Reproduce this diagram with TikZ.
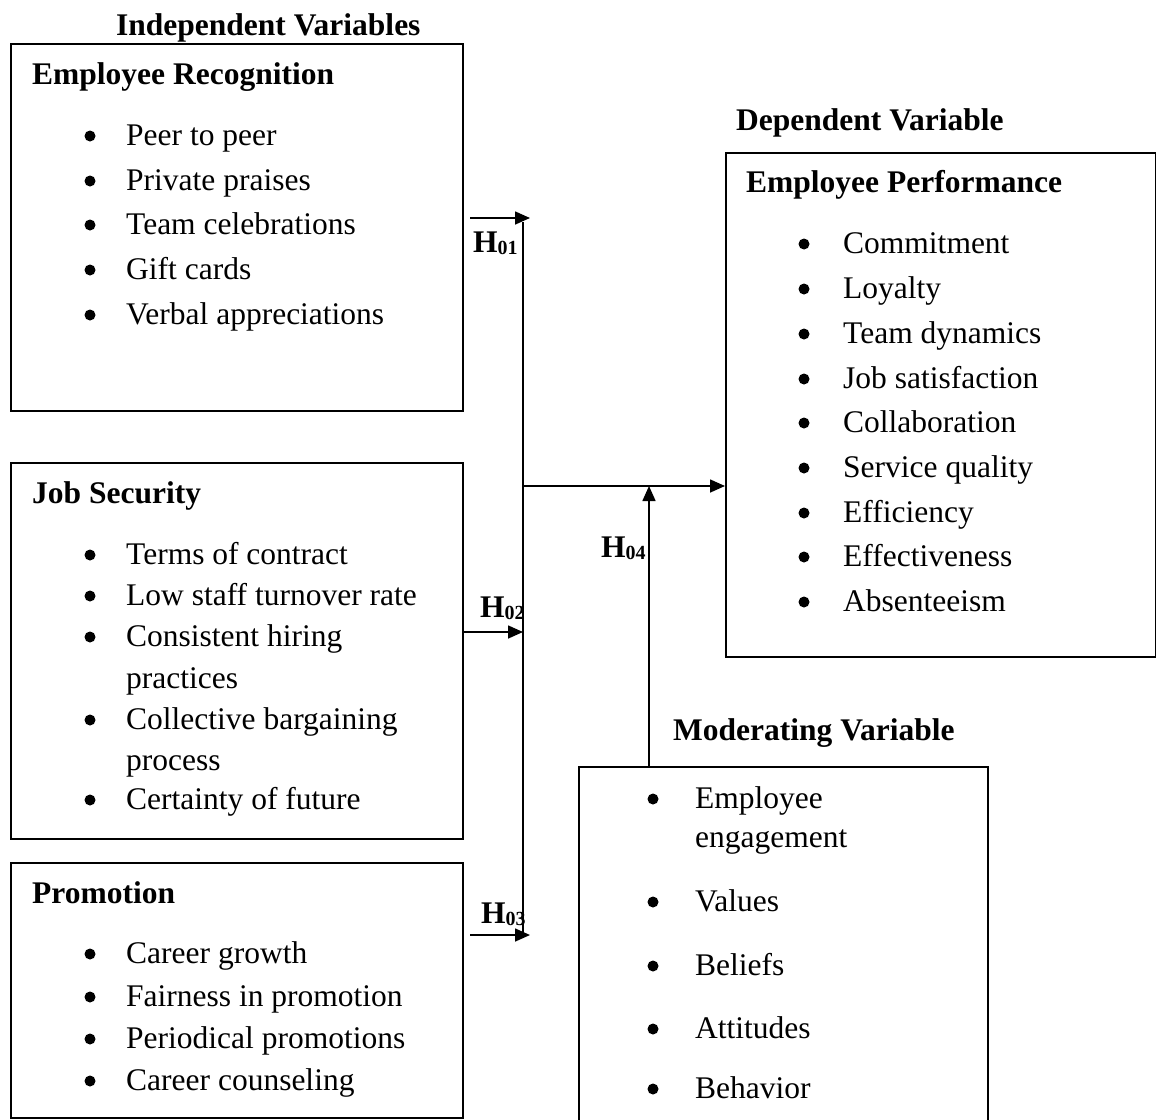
\documentclass[tikz,border=0pt]{standalone}
\usepackage{fontspec}
\setmainfont{Liberation Serif}
\usetikzlibrary{arrows.meta}
\newcommand{\body}{\fontsize{31.5}{38}\selectfont}
\newcommand{\hyp}[1]{H\raisebox{-2pt}{\fontsize{20}{20}\selectfont #1}}

\begin{document}
\begin{tikzpicture}[x=1pt, y={(0pt,-1pt)},
  panel/.style={draw, line width=1.6pt, anchor=north west, inner sep=0pt},
  head/.style={anchor=base west, inner sep=0pt, font=\body\bfseries},
  item/.style={anchor=base west, inner sep=0pt, font=\body},
  hlabel/.style={anchor=base west, inner sep=0pt, font=\body\bfseries},
  arr/.style={-{Triangle[length=15pt,width=13pt]}, line width=1.6pt},
  link/.style={line width=1.6pt}
]
  \useasboundingbox (0,0) rectangle (1156,1119);

  % boxes
  \node[panel, minimum width=452pt, minimum height=367pt] (recBox) at (10,43) {};
  \node[panel, minimum width=452pt, minimum height=376pt] (jobBox) at (10,462) {};
  \node[panel, minimum width=452pt, minimum height=255pt] (proBox) at (10,862) {};
  \node[panel, minimum width=430pt, minimum height=504pt] (perfBox) at (725,152) {};
  \node[panel, minimum width=409pt, minimum height=380pt] (modBox) at (578,766) {};

  % headings
  \node[head] (indepHead) at (116,35) {Independent Variables};
  \node[head] (depHead) at (736,130) {Dependent Variable};
  \node[head] (modHead) at (673,740) {Moderating Variable};

  % employee recognition
  \node[head] (recTitle) at (32,84) {Employee Recognition};
  \node[item] (rec1) at (126,145) {Peer to peer};
  \node[item] (rec2) at (126,190) {Private praises};
  \node[item] (rec3) at (126,234) {Team celebrations};
  \node[item] (rec4) at (126,279) {Gift cards};
  \node[item] (rec5) at (126,324) {Verbal appreciations};

  % job security
  \node[head] (jobTitle) at (32,503) {Job Security};
  \node[item] (job1) at (126,564) {Terms of contract};
  \node[item] (job2) at (126,605) {Low staff turnover rate};
  \node[item] (job3) at (126,646) {Consistent hiring};
  \node[item] (job3b) at (126,688) {practices};
  \node[item] (job4) at (126,729) {Collective bargaining};
  \node[item] (job4b) at (126,770) {process};
  \node[item] (job5) at (126,809) {Certainty of future};

  % promotion
  \node[head] (proTitle) at (32,903) {Promotion};
  \node[item] (pro1) at (126,963) {Career growth};
  \node[item] (pro2) at (126,1006) {Fairness in promotion};
  \node[item] (pro3) at (126,1048) {Periodical promotions};
  \node[item] (pro4) at (126,1090) {Career counseling};

  % employee performance
  \node[head] (perfTitle) at (746,192) {Employee Performance};
  \node[item] (perf1) at (843,253) {Commitment};
  \node[item] (perf2) at (843,298) {Loyalty};
  \node[item] (perf3) at (843,343) {Team dynamics};
  \node[item] (perf4) at (843,388) {Job satisfaction};
  \node[item] (perf5) at (843,432) {Collaboration};
  \node[item] (perf6) at (843,477) {Service quality};
  \node[item] (perf7) at (843,522) {Efficiency};
  \node[item] (perf8) at (843,566) {Effectiveness};
  \node[item] (perf9) at (843,611) {Absenteeism};

  % moderating variable
  \node[item] (mod1) at (695,808) {Employee};
  \node[item] (mod1b) at (695,847) {engagement};
  \node[item] (mod2) at (695,911) {Values};
  \node[item] (mod3) at (695,975) {Beliefs};
  \node[item] (mod4) at (695,1038) {Attitudes};
  \node[item] (mod5) at (695,1098) {Behavior};

  % bullets
  \foreach \n in {rec1,rec2,rec3,rec4,rec5,job1,job2,job3,job4,job5,pro1,pro2,pro3,pro4}
    \fill ([xshift=-36pt,yshift=9pt]\n.base west) circle (5.5pt);
  \foreach \n in {perf1,perf2,perf3,perf4,perf5,perf6,perf7,perf8,perf9}
    \fill ([xshift=-39pt,yshift=9pt]\n.base west) circle (5.5pt);
  \foreach \n in {mod1,mod2,mod3,mod4,mod5}
    \fill ([xshift=-42pt,yshift=9pt]\n.base west) circle (5.5pt);

  % connectors
  \coordinate (busTop) at (523,222);
  \coordinate (busBot) at (523,935);
  \coordinate (busMid) at (523,486);
  \coordinate (h1s) at (470,218);
  \coordinate (h1e) at (530,218);
  \coordinate (h2e) at (523,632);
  \coordinate (h3s) at (470,935);
  \coordinate (h3e) at (530,935);
  \coordinate (h4s) at (649,766);

  \draw[link] (busTop) -- (busBot);
  \draw[arr] (h1s) -- (h1e);
  \draw[arr] (jobBox.east |- h2e) -- (h2e);
  \draw[arr] (h3s) -- (h3e);
  \draw[arr] (busMid) -- (busMid -| perfBox.west);
  \draw[arr] (h4s) -- (h4s |- busMid);

  \node[hlabel] (h01) at (473,252) {\hyp{01}};
  \node[hlabel] (h02) at (480,617) {\hyp{02}};
  \node[hlabel] (h03) at (481,923) {\hyp{03}};
  \node[hlabel] (h04) at (601,557) {\hyp{04}};
\end{tikzpicture}
\end{document}
